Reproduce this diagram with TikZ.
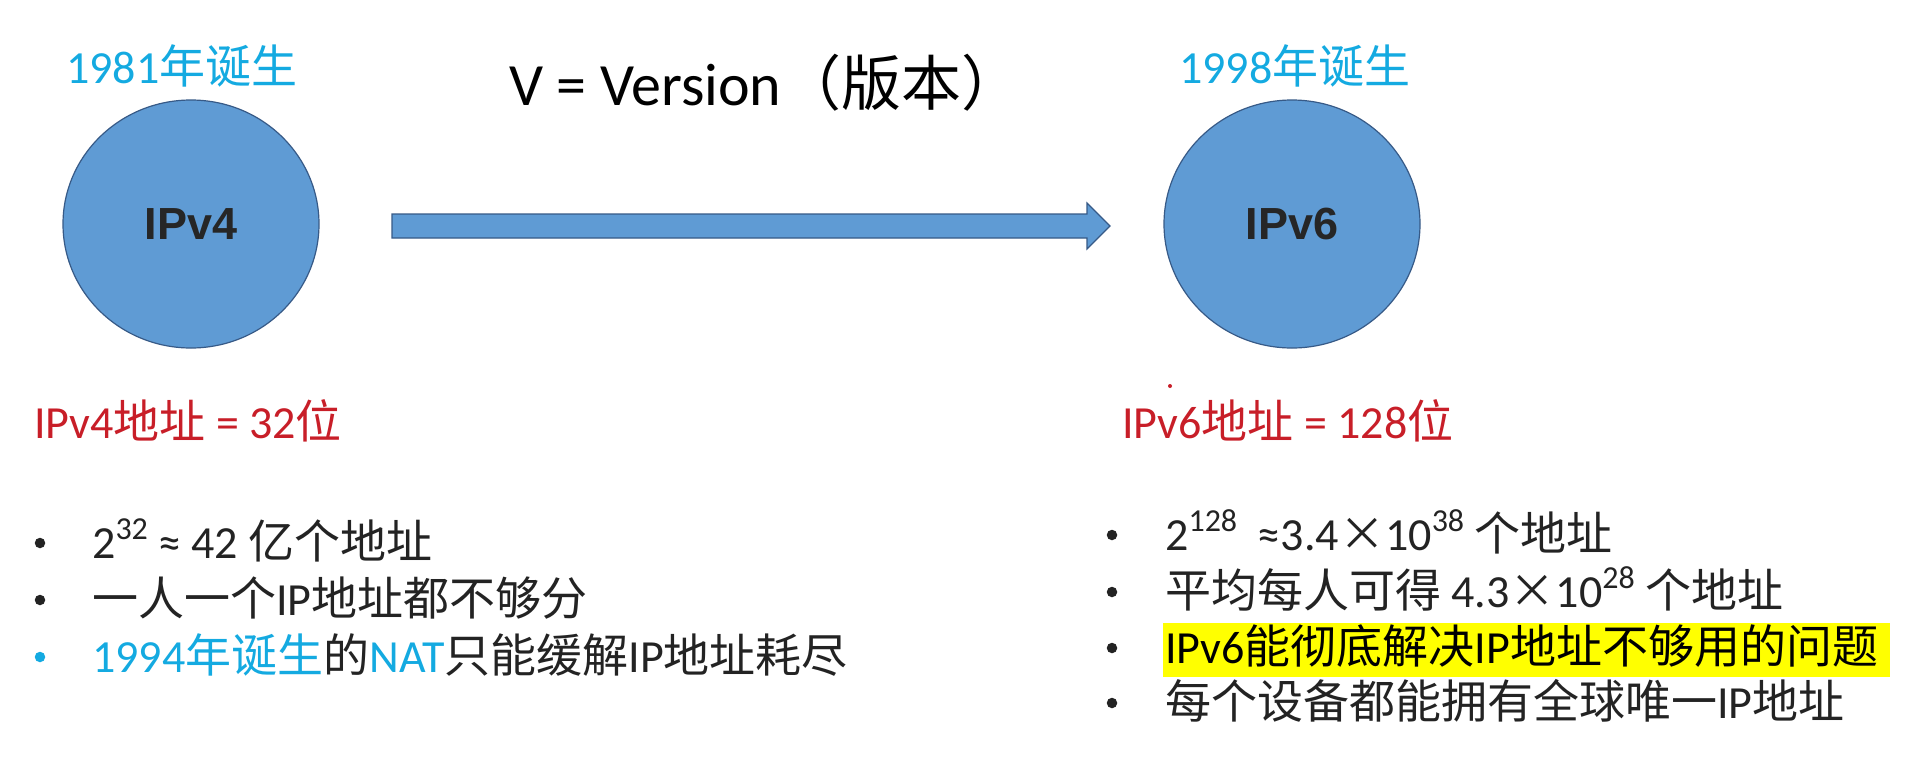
\documentclass[tikz,border=0pt]{standalone}
\usepackage{fontspec}
\setmainfont{Carlito}
\newfontfamily\zhfont{Noto Sans CJK SC}
\newfontfamily\arialfont{Liberation Sans}
\newcommand\zh[1]{{\zhfont #1}}
\newcommand\supnum[1]{\raisebox{0.40em}{\fontsize{32}{32}\selectfont #1}}
\usetikzlibrary{shapes.geometric,calc}
\definecolor{cyantxt}{RGB}{20,170,225}
\definecolor{redtxt}{RGB}{200,30,40}
\definecolor{bluefill}{RGB}{95,155,212}
\definecolor{blueline}{RGB}{55,90,135}
\definecolor{darktxt}{RGB}{35,35,35}
\definecolor{hl}{RGB}{255,255,0}
\tikzset{
  txt/.style={inner sep=0pt, anchor=base west, font=\fontsize{46}{55}\selectfont, text=darktxt},
  yeartxt/.style={txt, text=cyantxt},
  bittxt/.style={txt, text=redtxt},
  titletxt/.style={inner sep=0pt, anchor=base west, font=\fontsize{60}{70}\selectfont, text=black},
  ipell/.style={ellipse, draw=blueline, line width=1.2pt, fill=bluefill, minimum width=256pt, minimum height=248pt, inner sep=0pt, font=\arialfont\bfseries\fontsize{45}{50}\selectfont, text=black!85},
  bul/.style={circle, fill=darktxt, inner sep=0pt, minimum size=10.5pt},
  blockarrow/.style={draw=blueline, line width=1.2pt, fill=bluefill, line join=miter},
}
\begin{document}
\begin{tikzpicture}[x=1pt,y=-1pt]
\useasboundingbox (0,0) rectangle (1922,756);
\fill[white] (0,0) rectangle (1922,756);

% top labels
\node[yeartxt] (y4) at (66,83) {1981\zh{年诞生}};
\node[titletxt] (ver) at (509,105) {V = Version\zh{（版本）}};
\node[yeartxt] (y6) at (1179,83) {1998\zh{年诞生}};

% ellipses
\node[ipell] (v4) at (191,224) {IPv4};
\node[ipell] (v6) at (1292,224) {IPv6};

% block arrow
\coordinate (as) at (392,226);
\coordinate (ae) at (1110,226);
\draw[blockarrow] ($(as)+(0,-12)$) -- ($(ae)+(-23,-12)$) -- ($(ae)+(-23,-23)$) -- (ae)
  -- ($(ae)+(-23,23)$) -- ($(ae)+(-23,12)$) -- ($(as)+(0,12)$) -- cycle;

% bit labels
\node[bittxt] (b4) at (34,438) {IPv4\zh{地址} = 32\zh{位}};
\node[circle, fill=redtxt, inner sep=0pt, minimum size=4pt] (dot) at (1170,386) {};
\node[bittxt] (b6) at (1122,438) {IPv6\zh{地址} = 128\zh{位}};

% left bullets
\node[bul] (l1b) at (40,543) {};
\node[txt] (l1) at (92,558) {2\supnum{32} ≈ 42 \zh{亿个地址}};
\node[bul] (l2b) at (40,600) {};
\node[txt] (l2) at (92,615) {\zh{一人一个}IP\zh{地址都不够分}};
\node[bul, fill=cyantxt] (l3b) at (40,657) {};
\node[txt] (l3) at (92,672) {\textcolor{cyantxt}{1994\zh{年诞生}}\zh{的}\textcolor{cyantxt}{NAT}\zh{只能缓解}IP\zh{地址耗尽}};

% right bullets
\fill[hl] (1163,623) rectangle (1890,677);
\node[bul] (r1b) at (1112,535) {};
\node[txt] (r1) at (1165,550) {2\supnum{128}\ \ ≈3.4\zh{×}10\supnum{38} \zh{个地址}};
\node[bul] (r2b) at (1112,592) {};
\node[txt] (r2) at (1165,607) {\zh{平均每人可得} 4.3\zh{×}10\supnum{28} \zh{个地址}};
\node[bul] (r3b) at (1112,648) {};
\node[txt, text=black] (r3) at (1165,663) {IPv6\zh{能彻底解决}IP\zh{地址不够用的问题}};
\node[bul] (r4b) at (1112,703) {};
\node[txt] (r4) at (1165,718) {\zh{每个设备都能拥有全球唯一}IP\zh{地址}};
\end{tikzpicture}
\end{document}
